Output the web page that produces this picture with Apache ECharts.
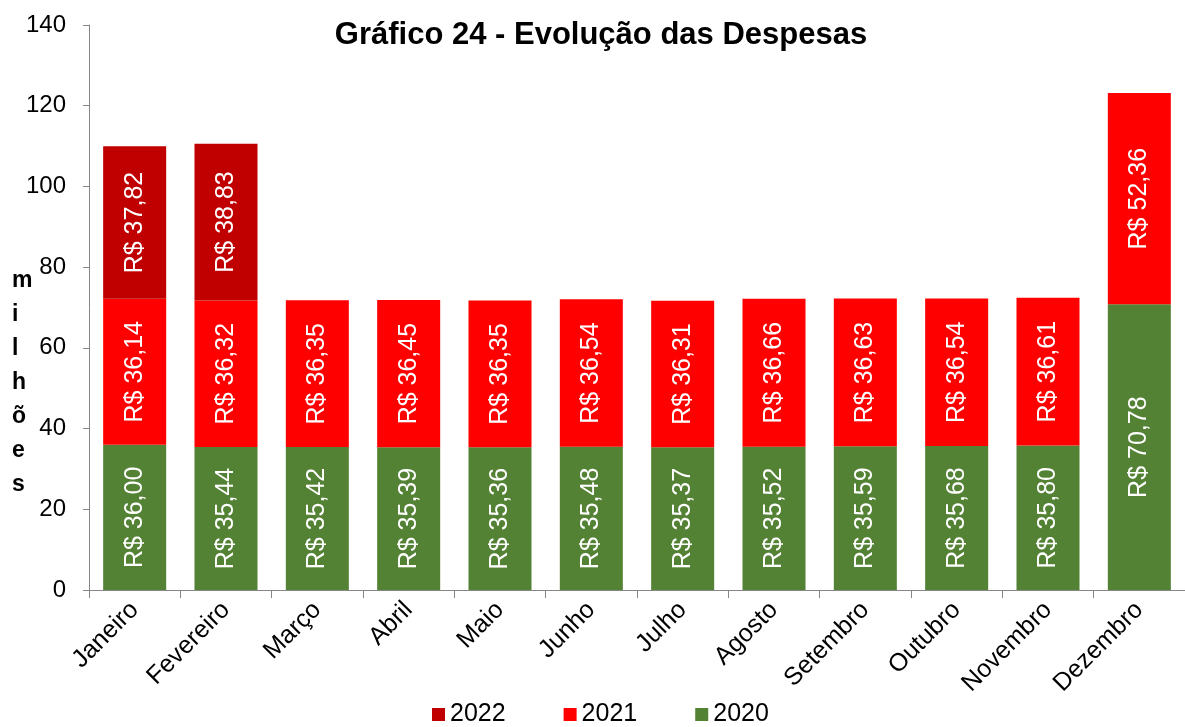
<!DOCTYPE html>
<html>
<head>
<meta charset="utf-8">
<script src="https://cdn.jsdelivr.net/npm/echarts@6/dist/echarts.min.js"></script>
<style>html,body{margin:0;padding:0;background:#fff}#c{width:1185px;height:727px}</style>
</head>
<body>
<div id="c"></div>
<script>
var months = ['Janeiro','Fevereiro','Março','Abril','Maio','Junho','Julho','Agosto','Setembro','Outubro','Novembro','Dezembro'];
var v2020 = [36.00,35.44,35.42,35.39,35.36,35.48,35.37,35.52,35.59,35.68,35.80,70.78];
var v2021 = [36.14,36.32,36.35,36.45,36.35,36.54,36.31,36.66,36.63,36.54,36.61,52.36];
var v2022 = [37.82,38.83,null,null,null,null,null,null,null,null,null,null];
var yTicks = [0,20,40,60,80,100,120,140];

var font = '"Liberation Sans", Arial, sans-serif';
function fmt(p){ if(p.value==null||p.value===0) return ''; return 'R$ ' + p.value.toFixed(2).replace('.', ','); }
function mk(name, data, color){
  return {
    name: name, type: 'bar', stack: 'a', data: data, barWidth: '69%',
    itemStyle: {color: color},
    label: {show: true, position: 'inside', rotate: 90, color: '#fff', fontSize: 25, fontFamily: font, formatter: fmt},
    emphasis: {disabled: true}
  };
}
var chart = echarts.init(document.getElementById('c'));
chart.setOption({
  animation: false,
  backgroundColor: '#fff',
  title: {text: 'Gráfico 24 - Evolução das Despesas', left: 596, textAlign: 'center', top: 15,
    textStyle: {fontSize: 31, fontWeight: 'bold', color: '#000', fontFamily: font}},
  legend: {bottom: -5, left: 427, itemWidth: 13, itemHeight: 13, itemGap: 58, icon: 'rect',
    data: ['2022','2021','2020'],
    textStyle: {fontSize: 25, color: '#000', fontFamily: font}},
  grid: {left: 89, right: 0, top: 25, bottom: 137, containLabel: false},
  xAxis: {type: 'category', data: months, boundaryGap: true,
    axisLine: {lineStyle: {color: '#868686'}},
    axisTick: {show: true, length: 8, lineStyle: {color: '#868686'}},
    axisLabel: {rotate: 45, fontSize: 25, color: '#000', fontFamily: font, interval: 0, margin: 16}},
  yAxis: {type: 'value', min: yTicks[0], max: yTicks[yTicks.length-1], interval: 20,
    axisLine: {show: true, lineStyle: {color: '#868686'}},
    axisTick: {show: true, length: 6, lineStyle: {color: '#868686'}},
    splitLine: {show: false},
    axisLabel: {fontSize: 24, color: '#000', fontFamily: font, margin: 23}},
  graphic: [{type: 'text', left: 12, top: 264, style: {text: 'm\ni\nl\nh\nõ\ne\ns', fontSize: 23, fontWeight: 'bold',
    fontFamily: font, fill: '#000', lineHeight: 34, align: 'center'}}],
  series: [mk('2020', v2020, '#548235'), mk('2021', v2021, '#FF0000'), mk('2022', v2022, '#C00000')]
});
</script>
</body>
</html>
